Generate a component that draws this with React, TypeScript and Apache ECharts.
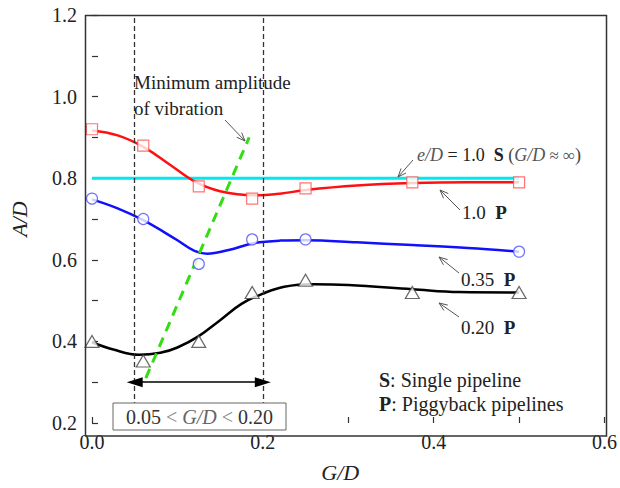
import React, { useEffect, useRef } from "react";
import * as echarts from "echarts";

// ---- data ----
const gdRed = [0, 0.06, 0.125, 0.1875, 0.25, 0.375, 0.5];
const adRed = [0.92, 0.88, 0.78, 0.75, 0.775, 0.79, 0.79];
const gdBlue = [0, 0.06, 0.125, 0.1875, 0.25, 0.5];
const adBlue = [0.75, 0.7, 0.59, 0.65, 0.65, 0.62];
const gdBlack = [0, 0.06, 0.125, 0.1875, 0.25, 0.375, 0.5];
const adBlack = [0.4, 0.352, 0.4, 0.52, 0.55, 0.52, 0.52];

// fitted curves
const fitRedX = [0, 0.03, 0.06, 0.09, 0.12, 0.15, 0.19, 0.22, 0.25, 0.31, 0.375, 0.44, 0.5];
const fitRedY = [0.917, 0.905, 0.877, 0.835, 0.792, 0.768, 0.758, 0.762, 0.771, 0.782, 0.788, 0.79, 0.79];
const fitBlueX = [0, 0.03, 0.06, 0.1, 0.12, 0.135, 0.16, 0.19, 0.22, 0.25, 0.31, 0.375, 0.44, 0.5];
const fitBlueY = [0.748, 0.726, 0.697, 0.648, 0.622, 0.615, 0.624, 0.641, 0.647, 0.648, 0.643, 0.636, 0.629, 0.62];
const fitBlackX = [0, 0.025, 0.055, 0.08, 0.1, 0.125, 0.15, 0.175, 0.2, 0.225, 0.26, 0.3, 0.375, 0.43, 0.5];
const fitBlackY = [0.398, 0.38, 0.367, 0.372, 0.385, 0.413, 0.452, 0.492, 0.517, 0.534, 0.54, 0.538, 0.528, 0.521, 0.52];

const singleX = [0, 0.5];
const singleY = [0.8, 0.8];
const minAmpX = [0.063, 0.184];
const minAmpY = [0.31, 0.9];
const rangeBounds = [0.05, 0.2];
const rangeArrowY = 0.3;

const xTicks = { min: 0, max: 0.6, interval: 0.1 };
const yTicks = { min: 0.2, max: 1.2, interval: 0.1 };

const zip = (xs: number[], ys: number[]) => xs.map((x, i) => [x, ys[i]]);

const FONT = "Liberation Serif";

// [text, fontSize, fontStyle, fontWeight, colour]
type Part = [string, number, string, string, string];

let measureCtx: CanvasRenderingContext2D | null = null;
function measure(p: Part) {
  if (!measureCtx) measureCtx = document.createElement("canvas").getContext("2d");
  if (!measureCtx) return p[0].length * p[1] * 0.5;
  measureCtx.font = `${p[2]} ${p[3]} ${p[1]}px "${FONT}"`;
  return measureCtx.measureText(p[0]).width;
}

function runs(x: number, y: number, parts: Part[], align = "left") {
  const widths = parts.map(measure);
  const total = widths.reduce((a, b) => a + b, 0);
  let cx = align === "center" ? x - total / 2 : x;
  const out: any[] = [];
  parts.forEach((p, i) => {
    out.push({
      type: "text",
      x: cx,
      y,
      z: 100,
      silent: true,
      style: {
        text: p[0],
        fontFamily: FONT,
        fontSize: p[1],
        fontStyle: p[2],
        fontWeight: p[3],
        fill: p[4],
        textAlign: "left",
        textVerticalAlign: "middle",
      },
    });
    cx += widths[i];
  });
  return out;
}

function arrow(x1: number, y1: number, x2: number, y2: number) {
  const a = Math.atan2(y2 - y1, x2 - x1);
  const h = 9;
  const s = 0.38;
  const p1 = [x2 - h * Math.cos(a - s), y2 - h * Math.sin(a - s)];
  const p2 = [x2 - h * Math.cos(a + s), y2 - h * Math.sin(a + s)];
  const st = { stroke: "#555", lineWidth: 1, fill: "none" };
  return [
    { type: "line", shape: { x1, y1, x2, y2 }, style: st, z: 100 },
    { type: "polyline", shape: { points: [p1, [x2, y2], p2] }, style: st, z: 100 },
  ];
}

const N = "normal";
const B = "bold";
const I = "italic";

export default function App() {
  const ref = useRef<HTMLDivElement>(null);
  useEffect(() => {
    if (!ref.current) return;
    const chart = echarts.init(ref.current, undefined, { renderer: "svg" });
    const labelFmt = (v: number) => {
      const k = Math.round(v * 10);
      return k % 2 === 0 ? v.toFixed(1) : "";
    };
    const markerStyle = (c: string) => ({ color: "#fff", borderColor: c, borderWidth: 1.2 });

    chart.setOption({
      animation: false,
      backgroundColor: "#fff",
      grid: { left: 90, right: 13, top: 15, bottom: 52, containLabel: false },
      xAxis: {
        type: "value",
        ...xTicks,
        name: "G/D",
        nameLocation: "middle",
        nameGap: 38,
        nameTextStyle: { fontFamily: FONT, fontSize: 22, fontStyle: "italic", color: "#222", padding: [0, 16, 0, 0] },
        axisLine: { show: false },
        axisTick: { show: true, inside: true, length: 6, lineStyle: { color: "#333", width: 1.2 } },
        axisLabel: { formatter: labelFmt, fontFamily: FONT, fontSize: 20, color: "#222", margin: 9 },
        splitLine: { show: false },
      },
      yAxis: {
        type: "value",
        ...yTicks,
        offset: 5,
        name: "A/D",
        nameLocation: "middle",
        nameGap: 57,
        nameRotate: 90,
        nameTextStyle: { fontFamily: FONT, fontSize: 22, fontStyle: "italic", color: "#222" },
        axisLine: { show: false },
        axisTick: { show: true, inside: true, length: 6, lineStyle: { color: "#333", width: 1.2 } },
        axisLabel: { formatter: labelFmt, fontFamily: FONT, fontSize: 20, color: "#222", margin: 10 },
        splitLine: { show: false },
      },
      series: [
        {
          type: "line",
          data: zip(singleX, singleY),
          symbol: "none",
          lineStyle: { color: "#00e8f0", width: 3 },
          z: 2,
          markLine: {
            silent: true,
            symbol: "none",
            label: { show: false },
            lineStyle: { color: "#333", type: [5, 3], width: 1.3 },
            data: rangeBounds.map((v) => ({ xAxis: v })),
          },
        },
        {
          type: "line",
          data: zip(fitRedX, fitRedY),
          smooth: 0.4,
          symbol: "none",
          lineStyle: { color: "#ff1010", width: 2.5 },
          z: 3,
        },
        {
          type: "line",
          data: zip(fitBlueX, fitBlueY),
          smooth: 0.4,
          symbol: "none",
          lineStyle: { color: "#1010ff", width: 2.5 },
          z: 3,
        },
        {
          type: "line",
          data: zip(fitBlackX, fitBlackY),
          smooth: 0.4,
          symbol: "none",
          lineStyle: { color: "#000", width: 2.5 },
          z: 3,
          markLine: {
            silent: true,
            symbol: ["triangle", "triangle"],
            symbolSize: [10, 16],
            label: { show: false },
            lineStyle: { color: "#000", type: "solid", width: 1.5 },
            data: [[{ coord: [rangeBounds[0], rangeArrowY] }, { coord: [rangeBounds[1], rangeArrowY] }]],
          },
        },
        {
          type: "line",
          data: zip(minAmpX, minAmpY),
          symbol: "none",
          lineStyle: { color: "#33dd11", width: 3, type: [10, 7] },
          z: 4,
        },
        {
          type: "scatter",
          data: zip(gdRed, adRed),
          symbol: "rect",
          symbolSize: 11,
          itemStyle: markerStyle("#ff5050"),
          z: 5,
        },
        {
          type: "scatter",
          data: zip(gdBlue, adBlue),
          symbol: "circle",
          symbolSize: 11,
          itemStyle: markerStyle("#5050ff"),
          z: 5,
        },
        {
          type: "scatter",
          data: zip(gdBlack, adBlack),
          symbol: "triangle",
          symbolSize: [14, 12],
          itemStyle: markerStyle("#444"),
          z: 5,
        },
      ],
      graphic: [
        {
          type: "rect",
          shape: { x: 85.5, y: 15.5, width: 521, height: 420.5 },
          style: { stroke: "#333", lineWidth: 1.5, fill: "none" },
          z: 50,
          silent: true,
        },
        {
          type: "rect",
          shape: { x: 113, y: 403, width: 173, height: 27 },
          style: { stroke: "#666", lineWidth: 1, fill: "#fff" },
          z: 90,
        },
        ...runs(199.5, 417, [
          ["0.05 ", 20, N, N, "#333"],
          ["<", 20, N, N, "#888"],
          [" ", 20, N, N, "#333"],
          ["G/D", 20, I, N, "#666"],
          [" ", 20, N, N, "#333"],
          ["<", 20, N, N, "#888"],
          [" 0.20", 20, N, N, "#333"],
        ], "center"),
        ...runs(134, 82, [["Minimum amplitude", 19, N, N, "#222"]]),
        ...runs(134, 108, [["of vibration", 19, N, N, "#222"]]),
        ...runs(417, 155, [
          ["e/D", 18, I, N, "#555"],
          [" = 1.0  ", 18, N, N, "#222"],
          ["S", 18, N, B, "#222"],
          [" (", 18, N, N, "#444"],
          ["G/D", 18, I, N, "#555"],
          [" ≈ ∞", 17, N, N, "#555"],
          [")", 18, N, N, "#444"],
        ]),
        ...runs(462, 212, [["1.0  ", 19, N, N, "#222"], ["P", 19, N, B, "#222"]]),
        ...runs(461, 279, [["0.35  ", 19, N, N, "#222"], ["P", 19, N, B, "#222"]]),
        ...runs(461, 327, [["0.20  ", 19, N, N, "#222"], ["P", 19, N, B, "#222"]]),
        ...runs(379, 380, [["S", 20, N, B, "#222"], [": Single pipeline", 20, N, N, "#222"]]),
        ...runs(379, 404, [["P", 20, N, B, "#222"], [": Piggyback pipelines", 20, N, N, "#222"]]),
        ...arrow(225, 120, 245, 141),
        ...arrow(413, 160, 398, 177),
        ...arrow(460, 210, 440, 190),
        ...arrow(459, 273, 439, 257),
        ...arrow(459, 317, 439, 303),
      ],
    });
    return () => chart.dispose();
  }, []);
  return <div ref={ref} style={{ position: "fixed", left: 0, top: 0, width: 620, height: 488 }} />;
}
